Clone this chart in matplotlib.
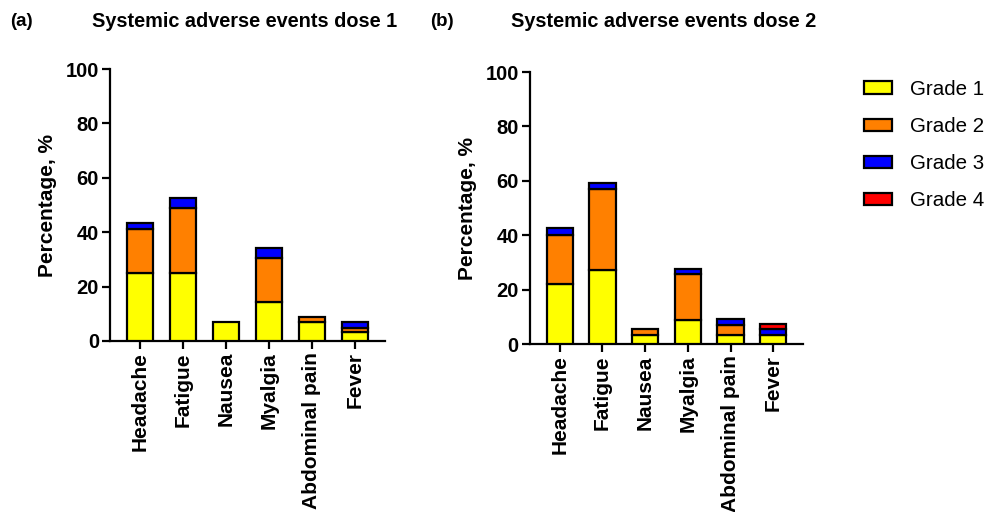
import numpy as np
import matplotlib.pyplot as plt
from matplotlib.patches import Patch

plt.rcParams['font.family'] = ['Liberation Sans', 'DejaVu Sans']

categories = ['Headache', 'Fatigue', 'Nausea', 'Myalgia', 'Abdominal pain', 'Fever']
grades = ['Grade 1', 'Grade 2', 'Grade 3', 'Grade 4']
grade_colors = ['#FFFF00', '#FF8000', '#0000FF', '#FF0000']

# percentage of participants per grade, dose 1
dose1_g1 = [25.0, 25.0, 6.9, 14.2, 6.8, 3.2]
dose1_g2 = [16.3, 23.8, 0.0, 16.2, 2.1, 1.4]
dose1_g3 = [2.2, 3.6, 0.0, 3.9, 0.0, 2.4]
dose1_g4 = [0.0, 0.0, 0.0, 0.0, 0.0, 0.0]

# percentage of participants per grade, dose 2
dose2_g1 = [22.0, 27.4, 3.5, 8.9, 3.4, 3.4]
dose2_g2 = [18.2, 29.6, 2.0, 16.8, 3.6, 0.0]
dose2_g3 = [2.4, 2.1, 0.0, 2.0, 2.2, 2.0]
dose2_g4 = [0.0, 0.0, 0.0, 0.0, 0.0, 2.0]

fig = plt.figure(figsize=(9.93, 5.12), dpi=100)
ax1 = fig.add_axes([0.1108, 0.334, 0.2769, 0.5312])
ax2 = fig.add_axes([0.5337, 0.328, 0.2750, 0.5312])


def stacked(ax, series):
    x = np.arange(len(categories))
    bottom = np.zeros(len(categories))
    for vals, col in zip(series, grade_colors):
        vals = np.array(vals)
        keep = vals > 0
        ax.bar(x[keep], vals[keep], bottom=bottom[keep], width=0.62,
               color=col, edgecolor='black', linewidth=1.6, zorder=3)
        bottom += vals
    ax.set_xlim(-0.7, len(categories) - 0.3)
    ax.set_ylim(0, 100)
    ax.set_yticks(range(0, 101, 20))
    ax.set_xticks(x)
    ax.set_xticklabels(categories, rotation=90, fontsize=15, fontweight='bold')
    for lbl in ax.get_yticklabels():
        lbl.set_fontweight('bold')
        lbl.set_fontsize(14.5)
    ax.spines['top'].set_visible(False)
    ax.spines['right'].set_visible(False)
    ax.spines['left'].set_linewidth(1.6)
    ax.spines['bottom'].set_linewidth(1.6)
    ax.tick_params(axis='both', direction='out', length=6, width=1.6, pad=2)
    ax.set_ylabel('Percentage, %', fontsize=15, fontweight='bold', labelpad=6)


stacked(ax1, [dose1_g1, dose1_g2, dose1_g3, dose1_g4])
stacked(ax2, [dose2_g1, dose2_g2, dose2_g3, dose2_g4])

fig.text(0.010, 0.958, '(a)', fontsize=13.5, fontweight='bold', va='center')
fig.text(0.093, 0.958, 'Systemic adverse events dose 1', fontsize=14.3,
         fontweight='bold', va='center')
fig.text(0.433, 0.958, '(b)', fontsize=13.5, fontweight='bold', va='center')
fig.text(0.515, 0.958, 'Systemic adverse events dose 2', fontsize=14.3,
         fontweight='bold', va='center')

handles = [Patch(facecolor=c, edgecolor='black', linewidth=1.6) for c in grade_colors]
fig.legend(handles, grades, loc='upper left', bbox_to_anchor=(0.851, 0.88),
           frameon=False, fontsize=14.8, handlelength=1.4, handleheight=0.55,
           handletextpad=0.85, labelspacing=0.88)

fig.savefig('out.png', dpi=100)
